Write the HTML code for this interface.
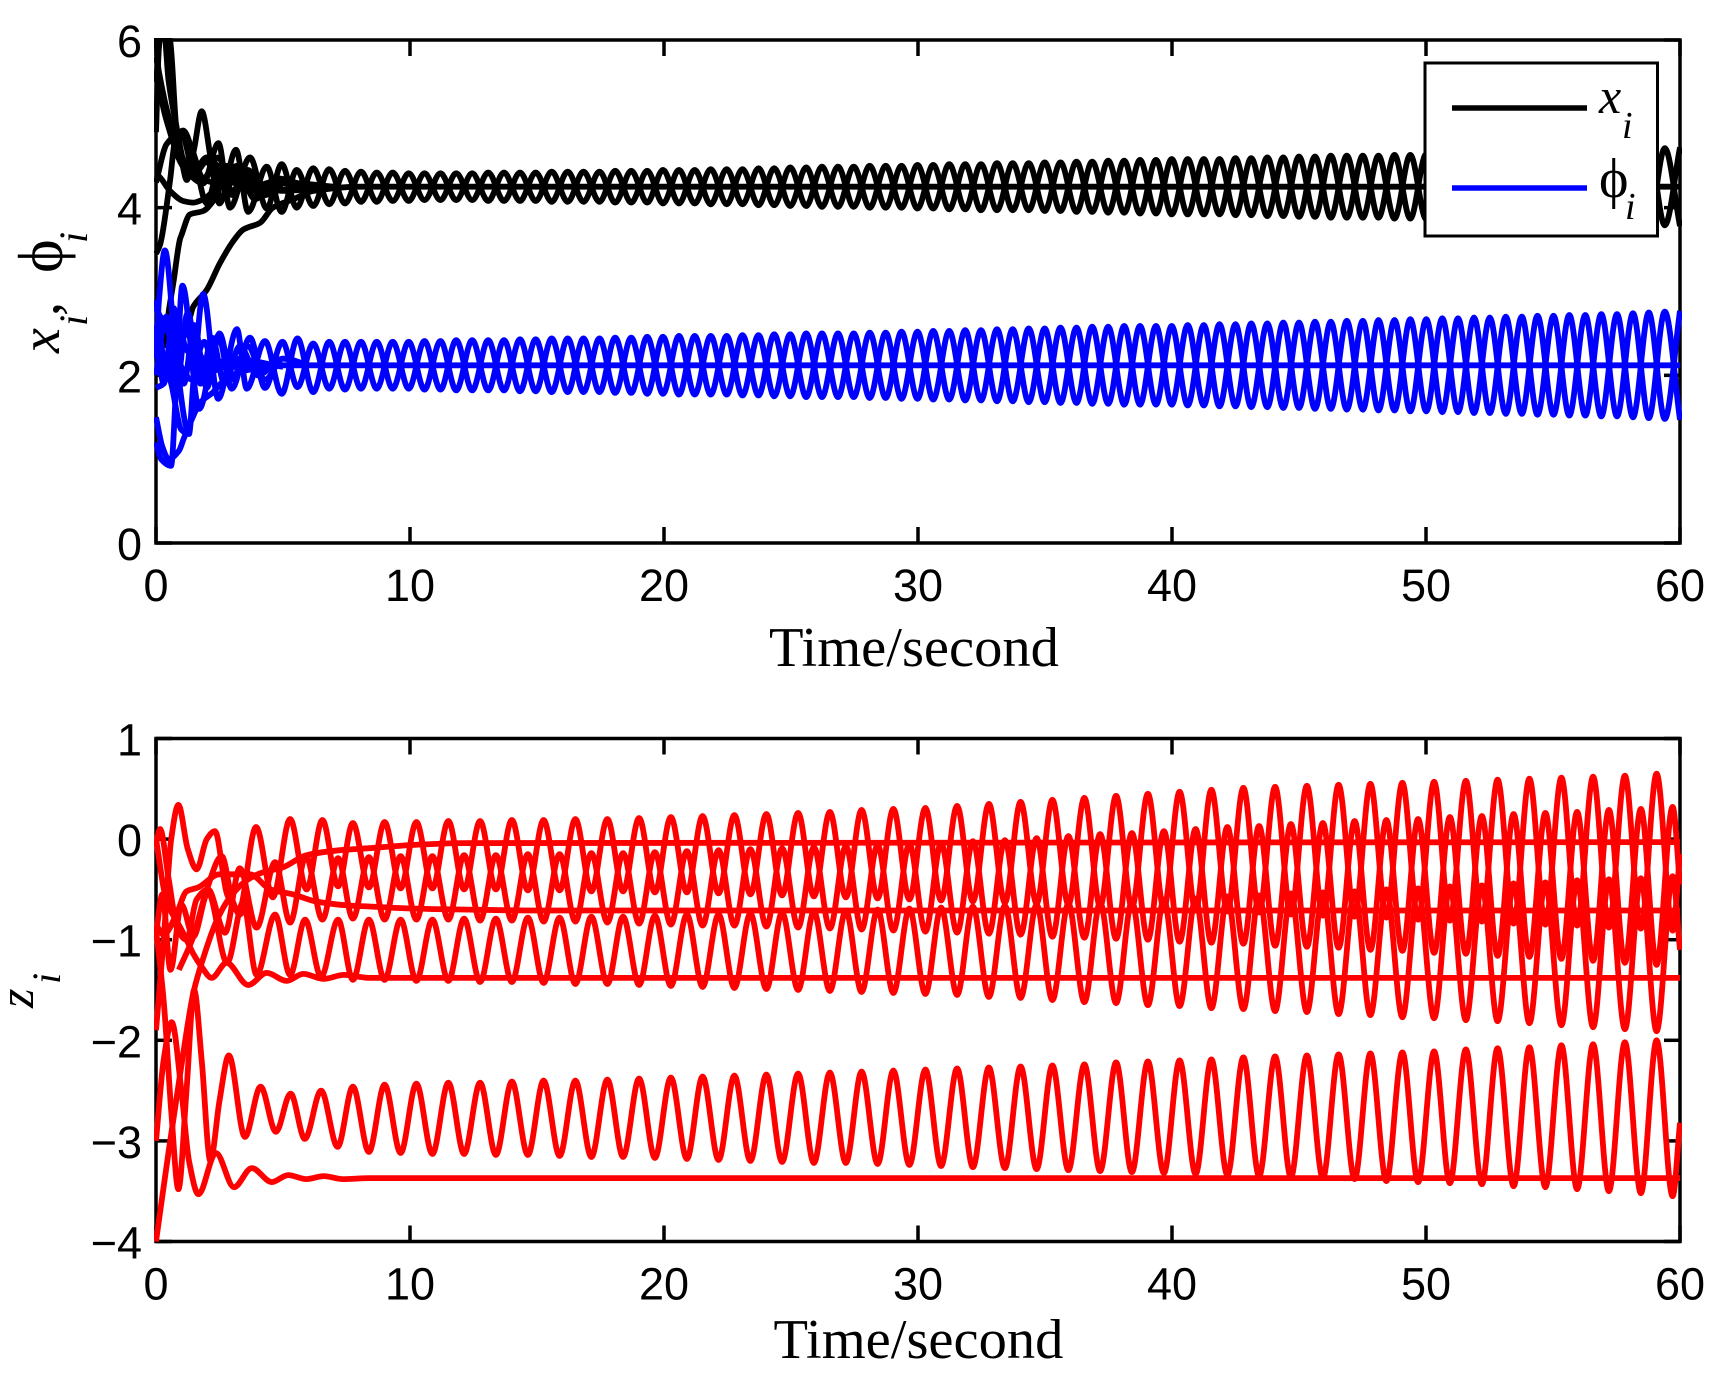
<!DOCTYPE html>
<html lang="en">
<head>
<meta charset="utf-8">
<title>State trajectories</title>
<style>
html,body{margin:0;padding:0;background:#fff;}
svg{display:block;}
text{fill:#000;}
.tick{font-family:"Liberation Sans",sans-serif;font-size:45px;}
.title{font-family:"Liberation Serif",serif;font-size:56.5px;}
.sym{font-family:"Liberation Serif","DejaVu Serif",serif;}
.it{font-family:"Liberation Serif",serif;font-style:italic;}
</style>
</head>
<body>
<svg id="figure" xmlns="http://www.w3.org/2000/svg" width="1734" height="1388" viewBox="0 0 1734 1388">
  <rect x="0" y="0" width="1734" height="1388" fill="#fff"/>
  <defs>
    <clipPath id="clip-top"><rect x="154" y="38" width="1528" height="507"/></clipPath>
    <clipPath id="clip-bottom"><rect x="154" y="736" width="1528" height="508"/></clipPath>
  </defs>
  <g id="top-axes"></g>
  <g id="top-series" clip-path="url(#clip-top)"></g>
  <g id="bottom-axes"></g>
  <g id="bottom-series" clip-path="url(#clip-bottom)"></g>

  <text class="title" x="769" y="666">Time/second</text>
  <text class="title" x="773.5" y="1358">Time/second</text>

  <g>
    <text class="it" font-size="56" transform="translate(59,353) rotate(-90)">x</text>
    <text class="it" font-size="40" transform="translate(87,326) rotate(-90)">i</text>
    <text class="sym" font-size="56" transform="translate(59,316) rotate(-90)">,</text>
    <text class="sym" font-size="64" transform="translate(62,273) rotate(-90)">ϕ</text>
    <text class="it" font-size="40" transform="translate(87,243) rotate(-90)">i</text>
  </g>
  <g>
    <text class="it" font-size="50" transform="translate(33,1008) rotate(-90)">z</text>
    <text class="it" font-size="40" transform="translate(60,984) rotate(-90)">i</text>
  </g>

  <g>
    <rect x="1425" y="63" width="232.5" height="173" fill="#fff" stroke="#000" stroke-width="3"/>
    <line x1="1452" x2="1587" y1="108" y2="108" stroke="#000" stroke-width="5.5"/>
    <text class="it" x="1599" y="113" font-size="50">x</text>
    <text class="it" x="1622" y="138" font-size="38">i</text>
    <line x1="1452" x2="1587" y1="188" y2="188" stroke="#0000ff" stroke-width="5.5"/>
    <text class="sym" x="1599" y="197" font-size="56">ϕ</text>
    <text class="it" x="1625" y="219" font-size="38">i</text>
  </g>
</svg>

<script>
/* ---------- axis ticks ---------- */
const xTickValues = [0, 10, 20, 30, 40, 50, 60];
const xTickLabels = ["0", "10", "20", "30", "40", "50", "60"];
const topYTickValues = [0, 2, 4, 6];
const topYTickLabels = ["0", "2", "4", "6"];
const bottomYTickValues = [-4, -3, -2, -1, 0, 1];
const bottomYTickLabels = ["\u22124", "\u22123", "\u22122", "\u22121", "0", "1"];

/* ---------- upper panel: extrema times after the start-up transient ---------- */
const topPhase1T = [6.19,7.44,8.69,9.95,11.20,12.45,13.70,14.95,16.21,17.46,18.71,19.96,21.21,22.47,23.72,24.97,26.22,27.47,28.73,29.98,31.23,32.48,33.73,34.99,36.24,37.49,38.74,39.99,41.25,42.50,43.75,45.00,46.25,47.51,48.76,50.01,51.26,52.51,53.77,55.02,56.27,57.52,58.77,60.00];
const topPhase2T = [6.82,8.07,9.32,10.57,11.82,13.08,14.33,15.58,16.83,18.08,19.34,20.59,21.84,23.09,24.34,25.60,26.85,28.10,29.35,30.60,31.86,33.11,34.36,35.61,36.86,38.12,39.37,40.62,41.87,43.12,44.38,45.63,46.88,48.13,49.38,50.64,51.89,53.14,54.39,55.64,56.90,58.15,59.40];

/* ---------- x_i (black) ---------- */
const xAHeadT = [0,0.25,0.55,0.8,1.05,1.21,1.5,1.8,2.15,2.5,3.15,3.63,4.36,4.95,5.54];
const xAHeadV = [5.5,6.2,6.0,4.95,4.5,4.33,4.7,5.15,4.6,4.05,4.69,3.95,4.49,3.95,4.45];
const xAPhase1 = [4.02,4.05,4.07,4.08,4.09,4.09,4.08,4.08,4.07,4.07,4.06,4.05,4.05,4.04,4.03,4.02,4.01,4.01,4.00,3.99,3.98,3.97,3.97,3.96,3.95,3.94,3.93,3.92,3.92,3.91,3.90,3.89,3.88,3.88,3.87,3.86,3.85,3.84,3.83,3.82,3.81,3.80,3.79,3.78];
const xAPhase2 = [4.46,4.43,4.42,4.41,4.41,4.42,4.42,4.43,4.43,4.44,4.44,4.45,4.46,4.46,4.47,4.48,4.49,4.50,4.50,4.51,4.52,4.53,4.53,4.54,4.55,4.56,4.57,4.58,4.58,4.59,4.60,4.61,4.62,4.62,4.63,4.64,4.65,4.66,4.67,4.68,4.69,4.70,4.71];

const xBHeadT = [0,0.16,0.55,0.95,1.3,1.86,2.46,2.91,3.7,4.36,4.95,5.54];
const xBHeadV = [6.1,5.4,4.9,4.55,4.4,4.29,4.77,4.0,4.6,3.99,4.52,4.0];
const xBPhase1 = [4.47,4.44,4.42,4.41,4.41,4.41,4.42,4.42,4.43,4.43,4.44,4.45,4.45,4.46,4.47,4.48,4.49,4.49,4.50,4.51,4.52,4.52,4.53,4.54,4.55,4.56,4.57,4.58,4.58,4.59,4.60,4.61,4.62,4.62,4.63,4.64,4.65,4.66,4.67,4.68,4.69,4.70,4.71,4.72];
const xBPhase2 = [4.04,4.07,4.08,4.09,4.09,4.08,4.08,4.07,4.07,4.06,4.06,4.05,4.04,4.04,4.03,4.02,4.01,4.00,4.00,3.99,3.98,3.97,3.97,3.96,3.95,3.94,3.93,3.92,3.92,3.91,3.90,3.89,3.88,3.88,3.87,3.86,3.85,3.84,3.83,3.82,3.81,3.80,3.79];

const xCT = [0,0.16,0.55,0.75,1.07,1.5,2.0,2.5,3.0,3.6,4.4,6.0];
const xCV = [3.45,3.56,4.32,4.8,4.92,4.6,4.05,4.5,4.2,4.45,4.2,4.25];
const xDT = [0,0.42,1.0,1.4,1.8,2.3,3.0,3.6,4.5,6.0];
const xDV = [4.3,4.76,4.9,4.5,4.35,4.3,4.45,4.2,4.3,4.25];
const xET = [0,0.16,0.55,1.07,1.47,1.86,2.25,2.8,3.3,4.0,5.0,7.0];
const xEV = [4.4,4.36,4.2,4.08,4.06,4.1,4.2,4.5,4.3,4.2,4.3,4.25];
const xGT = [0,0.3,0.55,0.68,0.94,1.01,1.34,1.86,2.25,2.7,3.2,3.8,5.0,7.0];
const xGV = [2.3,2.4,2.86,3.1,3.62,3.68,3.92,3.96,4.08,4.35,4.5,4.3,4.2,4.25];
const xHT = [0,0.15,0.3,0.5,0.85,1.1,1.5,2.0,3.0,5.0];
const xHV = [4.9,6.1,6.15,5.5,4.9,4.55,4.45,4.6,4.3,4.25];
const xJT = [0.9,1.4,1.86,2.46,3.0,3.6,4.3,5.0,6.0];
const xJV = [4.9,4.7,4.35,4.6,4.15,4.4,4.15,4.3,4.25];
const xKT = [0,0.4,0.9,1.5,2.0,2.6,3.2,3.9,4.7,6.0];
const xKV = [5.8,5.2,4.7,4.4,4.55,4.1,4.45,4.1,4.35,4.25];
const xFlatT = [0,0.5,1.0,1.27,1.47,2.0,2.52,3.04,3.44,4.1,4.6,5.4,6.2,8.0,60];
const xFlatV = [2.45,2.35,2.5,2.63,2.82,3.02,3.34,3.6,3.74,3.82,4.0,4.1,4.2,4.25,4.25];

/* ---------- phi_i (blue) ---------- */
const phiPHeadT = [0,0.12,0.35,0.8,1.27,1.86,2.45,3.19,3.57,4.29,4.95,5.57];
const phiPHeadV = [2.2,2.9,3.49,2.2,1.34,2.97,1.72,2.55,1.84,2.41,1.78,2.44];
const phiPPhase1 = [1.80,1.83,1.84,1.84,1.83,1.82,1.82,1.81,1.80,1.80,1.79,1.78,1.77,1.77,1.76,1.75,1.74,1.74,1.73,1.72,1.71,1.70,1.69,1.68,1.67,1.66,1.65,1.65,1.64,1.63,1.62,1.61,1.60,1.59,1.58,1.57,1.56,1.55,1.54,1.53,1.52,1.51,1.49,1.47];
const phiPPhase2 = [2.40,2.40,2.40,2.41,2.42,2.42,2.43,2.44,2.44,2.45,2.46,2.47,2.47,2.48,2.49,2.50,2.50,2.51,2.52,2.53,2.54,2.55,2.56,2.57,2.58,2.59,2.59,2.60,2.61,2.62,2.63,2.64,2.65,2.66,2.67,2.68,2.69,2.70,2.71,2.72,2.73,2.74,2.76];

const phiQHeadT = [0,0.2,0.59,0.8,1.04,1.7,2.45,2.98,3.7,4.29,4.98,5.57];
const phiQHeadV = [1.2,1.0,0.92,1.9,3.07,1.6,2.47,1.84,2.45,1.85,2.40,1.86];
const phiQPhase1 = [2.38,2.40,2.40,2.40,2.41,2.42,2.42,2.43,2.44,2.44,2.45,2.46,2.47,2.47,2.48,2.49,2.50,2.50,2.51,2.52,2.53,2.54,2.55,2.56,2.57,2.58,2.59,2.59,2.60,2.61,2.62,2.63,2.64,2.65,2.66,2.67,2.68,2.69,2.70,2.71,2.72,2.73,2.75,2.77];
const phiQPhase2 = [1.84,1.84,1.84,1.83,1.82,1.82,1.81,1.80,1.80,1.79,1.78,1.77,1.77,1.76,1.75,1.74,1.74,1.73,1.72,1.71,1.70,1.69,1.68,1.67,1.66,1.65,1.65,1.64,1.63,1.62,1.61,1.60,1.59,1.58,1.57,1.56,1.55,1.54,1.53,1.52,1.51,1.50,1.48];

const phiRT = [0,0.25,0.5,0.9,1.1,1.4,1.73,2.25,2.65,3.4,5.0];
const phiRV = [1.5,1.15,1.0,1.1,1.25,1.47,1.67,1.8,1.93,2.05,2.12];
const phiST = [0,0.3,0.6,0.9,1.2,1.8,3.0,5.0];
const phiSV = [1.85,1.9,2.3,2.6,2.3,2.2,2.15,2.12];
const phiVT = [0,0.4,0.8,1.05,1.6,2.2,3.0,5.0];
const phiVV = [2.45,2.0,2.15,2.55,2.3,2.1,2.2,2.1];
const phiWT = [0,0.3,0.6,1.0,1.3,1.5,1.9,2.3,4.0];
const phiWV = [2.9,2.2,1.9,1.35,1.3,2.0,2.4,2.1,2.1];
const phiXT = [0,0.3,0.7,1.1,1.5,2.0,2.5,3.0,3.6,4.3,5.0,6.0];
const phiXV = [2.6,1.9,2.8,1.9,2.6,1.85,2.5,1.95,2.35,1.95,2.2,2.12];
const phiYT = [0,0.4,0.8,1.25,1.75,2.2,2.7,3.3,4.0,5.0,6.0];
const phiYV = [2.0,2.7,1.85,2.75,1.9,2.45,1.9,2.35,2.0,2.2,2.12];
const phiFlatT = [0,0.5,1.0,1.4,2.8,5.0,60];
const phiFlatV = [2.8,2.5,2.1,1.95,2.1,2.12,2.12];

/* ---------- lower panel: extrema times after the start-up transient ---------- */
const zPhase1T = [7.75,9.00,10.25,11.51,12.76,14.01,15.26,16.51,17.77,19.02,20.27,21.52,22.77,24.03,25.28,26.53,27.78,29.03,30.29,31.54,32.79,34.04,35.29,36.55,37.80,39.05,40.30,41.55,42.81,44.06,45.31,46.56,47.81,49.07,50.32,51.57,52.82,54.07,55.33,56.58,57.83,59.08];
const zPhase2T = [8.38,9.63,10.88,12.13,13.38,14.64,15.89,17.14,18.39,19.64,20.90,22.15,23.40,24.65,25.90,27.16,28.41,29.66,30.91,32.16,33.42,34.67,35.92,37.17,38.42,39.68,40.93,42.18,43.43,44.68,45.94,47.19,48.44,49.69,50.94,52.20,53.45,54.70,55.95,57.20,58.46,59.71];
const zEndT = [60];

/* ---------- z_i (red) ---------- */
const zAHeadT = [0,0.3,0.6,0.88,1.25,1.6,2.0,2.32,2.8,3.25,3.94,4.6,5.28,5.93,6.55,7.17];
const zAHeadV = [-1.9,-1.0,0,0.34,-0.1,-0.3,0,0.08,-0.55,-0.72,0.12,-0.58,0.2,-0.5,0.19,-0.47];
const zAPhase1 = [0.16,0.17,0.17,0.18,0.18,0.19,0.19,0.20,0.20,0.21,0.22,0.23,0.24,0.25,0.26,0.27,0.29,0.30,0.31,0.33,0.35,0.37,0.39,0.41,0.43,0.45,0.47,0.49,0.51,0.52,0.53,0.54,0.55,0.56,0.57,0.58,0.59,0.60,0.61,0.62,0.63,0.65];
const zAPhase2 = [-0.48,-0.49,-0.49,-0.50,-0.50,-0.51,-0.51,-0.52,-0.52,-0.53,-0.53,-0.54,-0.55,-0.56,-0.57,-0.58,-0.59,-0.60,-0.61,-0.62,-0.63,-0.64,-0.65,-0.67,-0.68,-0.69,-0.71,-0.72,-0.73,-0.75,-0.76,-0.77,-0.78,-0.80,-0.81,-0.82,-0.84,-0.85,-0.86,-0.88,-0.89,-0.91];
const zAEnd = [-0.15];

const zBHeadT = [0,0.25,0.57,1.0,1.47,2.05,2.8,3.43,3.96,4.69,5.28,5.87,6.5,7.17];
const zBHeadV = [-0.95,-0.55,-1.3,-0.65,-0.97,-0.53,-1.23,-0.63,-1.35,-0.75,-1.35,-0.8,-1.37,-0.8];
const zBPhase1 = [-1.40,-1.40,-1.41,-1.41,-1.42,-1.42,-1.43,-1.44,-1.44,-1.45,-1.46,-1.47,-1.48,-1.49,-1.50,-1.51,-1.52,-1.53,-1.54,-1.55,-1.57,-1.58,-1.60,-1.62,-1.63,-1.65,-1.66,-1.68,-1.69,-1.71,-1.72,-1.74,-1.75,-1.77,-1.78,-1.80,-1.81,-1.83,-1.85,-1.87,-1.89,-1.91];
const zBPhase2 = [-0.80,-0.80,-0.80,-0.79,-0.79,-0.78,-0.78,-0.77,-0.77,-0.76,-0.75,-0.75,-0.74,-0.73,-0.72,-0.71,-0.70,-0.69,-0.68,-0.67,-0.66,-0.65,-0.64,-0.63,-0.62,-0.60,-0.59,-0.57,-0.56,-0.54,-0.53,-0.52,-0.50,-0.49,-0.47,-0.46,-0.44,-0.43,-0.41,-0.40,-0.39,-0.37];
const zBEnd = [-1.1];

const zCHeadT = [0,0.16,0.5,0.85,1.2,1.6,2.05,2.72,3.3,3.96,4.69,5.28,5.9,6.55,7.17];
const zCHeadV = [-0.05,0.1,-0.4,-0.9,-1.0,-0.6,-0.5,-0.93,-0.29,-0.88,-0.23,-0.83,-0.17,-0.8,-0.19];
const zCPhase1 = [-0.79,-0.80,-0.80,-0.80,-0.81,-0.81,-0.82,-0.82,-0.83,-0.84,-0.85,-0.86,-0.86,-0.87,-0.88,-0.89,-0.90,-0.91,-0.92,-0.93,-0.94,-0.95,-0.97,-0.98,-0.99,-1.00,-1.02,-1.03,-1.04,-1.06,-1.07,-1.08,-1.10,-1.11,-1.13,-1.14,-1.16,-1.17,-1.19,-1.21,-1.23,-1.25];
const zCPhase2 = [-0.18,-0.17,-0.17,-0.16,-0.16,-0.15,-0.15,-0.14,-0.14,-0.13,-0.12,-0.11,-0.10,-0.09,-0.08,-0.07,-0.06,-0.05,-0.04,-0.02,-0.01,0.01,0.03,0.05,0.06,0.08,0.10,0.12,0.13,0.15,0.16,0.18,0.19,0.20,0.22,0.23,0.25,0.26,0.27,0.29,0.30,0.32];
const zCEnd = [-0.45];

const zDHeadT = [0,0.3,0.6,0.88,1.2,1.5,1.8,2.14,2.5,2.87,3.5,4.12,4.72,5.3,5.86,6.5,7.15];
const zDHeadV = [-0.9,-1.6,-2.7,-3.48,-2.5,-1.5,-2.2,-3.2,-2.6,-2.15,-2.96,-2.46,-2.91,-2.53,-2.98,-2.5,-3.06];
const zDPhase1 = [-2.46,-2.44,-2.43,-2.42,-2.42,-2.41,-2.40,-2.40,-2.39,-2.38,-2.37,-2.36,-2.35,-2.34,-2.33,-2.32,-2.31,-2.30,-2.29,-2.28,-2.27,-2.26,-2.25,-2.24,-2.22,-2.21,-2.20,-2.19,-2.17,-2.16,-2.15,-2.14,-2.13,-2.12,-2.11,-2.09,-2.08,-2.07,-2.05,-2.04,-2.02,-2.00];
const zDPhase2 = [-3.11,-3.12,-3.13,-3.13,-3.14,-3.14,-3.15,-3.16,-3.16,-3.17,-3.18,-3.19,-3.20,-3.21,-3.22,-3.22,-3.23,-3.24,-3.25,-3.26,-3.27,-3.28,-3.29,-3.30,-3.31,-3.32,-3.33,-3.34,-3.35,-3.36,-3.37,-3.38,-3.40,-3.41,-3.42,-3.43,-3.45,-3.46,-3.48,-3.50,-3.52,-3.55];
const zDEnd = [-2.82];

const zExtraT = [0.9,1.47,2.0,2.59,3.0,3.3,3.6];
const zExtraV = [-1.3,-0.97,-0.5,-0.17,-0.6,-0.75,-0.6];

const zFlat1T = [0,0.5,1.0,1.47,1.9,2.39,2.91,3.57,4.1,5.0,5.93,7.24,8.4,10,12,60];
const zFlat1V = [-4,-3.1,-2.25,-1.53,-1.15,-0.81,-0.58,-0.41,-0.34,-0.28,-0.16,-0.11,-0.09,-0.06,-0.04,-0.03];
const zFlat2T = [0,0.3,0.8,1.2,1.66,2.5,3.7,4.5,5.4,6.3,7.6,8.4,10,12,15,60];
const zFlat2V = [-0.85,-0.95,-0.75,-0.52,-0.48,-0.35,-0.35,-0.5,-0.55,-0.62,-0.66,-0.67,-0.69,-0.7,-0.71,-0.71];
const zFlat3T = [0,0.4,1.0,1.2,1.47,1.8,2.19,2.78,3.63,4.36,5.14,5.8,6.6,7.4,8.4,60];
const zFlat3V = [0,-0.6,-0.9,-1.0,-1.14,-1.27,-1.38,-1.23,-1.45,-1.33,-1.41,-1.34,-1.39,-1.35,-1.38,-1.38];
const zFlat4T = [0,0.3,0.62,1.0,1.3,1.67,2.36,3.07,3.77,4.56,5.2,5.93,6.6,7.35,8.4,60];
const zFlat4V = [-3.0,-2.2,-1.82,-2.5,-3.2,-3.53,-3.12,-3.46,-3.27,-3.41,-3.34,-3.38,-3.35,-3.38,-3.37,-3.37];

/* ---------- geometry ---------- */
const SVG_NS = "http://www.w3.org/2000/svg";
const plotLeft = 156, plotRight = 1680;
const topPanel = { top: 40, bottom: 543, min: 0, max: 6 };
const bottomPanel = { top: 738.5, bottom: 1241.5, min: -4, max: 1 };
const TICK_LEN = 16, AXIS_W = 3.5, LINE_W = 5.8;

function xScale(t) { return plotLeft + (t / 60) * (plotRight - plotLeft); }
function yScale(panel, v) {
  return panel.bottom - ((v - panel.min) / (panel.max - panel.min)) * (panel.bottom - panel.top);
}

function interleave(a, b) {
  const out = [];
  const n = Math.max(a.length, b.length);
  for (let i = 0; i < n; i++) {
    if (i < a.length) out.push(a[i]);
    if (i < b.length) out.push(b[i]);
  }
  return out;
}

/* monotone cubic: flat tangents at extrema, so a run of extrema draws a smooth wave */
function curvePath(panel, ts, vs) {
  const n = Math.min(ts.length, vs.length);
  const px = [], py = [];
  for (let i = 0; i < n; i++) {
    px.push(xScale(ts[i]));
    py.push(yScale(panel, vs[i]));
  }
  const slope = [];
  for (let i = 0; i < n - 1; i++) slope.push((py[i + 1] - py[i]) / (px[i + 1] - px[i]));
  const tan = [];
  for (let i = 0; i < n; i++) {
    if (i === 0) tan.push(slope[0]);
    else if (i === n - 1) tan.push(slope[n - 2]);
    else if (slope[i - 1] * slope[i] <= 0) tan.push(0);
    else tan.push(2 * slope[i - 1] * slope[i] / (slope[i - 1] + slope[i]));
  }
  let d = "M" + px[0].toFixed(1) + " " + py[0].toFixed(1);
  for (let i = 0; i < n - 1; i++) {
    const h = px[i + 1] - px[i];
    d += "C" + (px[i] + h / 3).toFixed(1) + " " + (py[i] + tan[i] * h / 3).toFixed(1) +
         " " + (px[i + 1] - h / 3).toFixed(1) + " " + (py[i + 1] - tan[i + 1] * h / 3).toFixed(1) +
         " " + px[i + 1].toFixed(1) + " " + py[i + 1].toFixed(1);
  }
  return d;
}

function drawSeries(groupId, panel, name, color, ts, vs) {
  const el = document.createElementNS(SVG_NS, "path");
  
  
  el.setAttribute("d", curvePath(panel, ts, vs));
  el.setAttribute("fill", "none");
  el.setAttribute("stroke", color);
  el.setAttribute("stroke-width", LINE_W);
  el.setAttribute("stroke-linejoin", "round");
  document.getElementById(groupId).appendChild(el);
}

function drawAxes(groupId, panel, yValues, yLabels) {
  const g = document.getElementById(groupId);
  const frame = document.createElementNS(SVG_NS, "rect");
  
  
  frame.setAttribute("x", plotLeft);
  frame.setAttribute("y", panel.top);
  frame.setAttribute("width", plotRight - plotLeft);
  frame.setAttribute("height", panel.bottom - panel.top);
  frame.setAttribute("fill", "#fff");
  frame.setAttribute("stroke", "#000");
  frame.setAttribute("stroke-width", AXIS_W);
  g.appendChild(frame);

  xTickValues.forEach(function (v, i) {
    const x = xScale(v);
    [[panel.top, panel.top + TICK_LEN], [panel.bottom, panel.bottom - TICK_LEN]].forEach(function (pair) {
      const tick = document.createElementNS(SVG_NS, "line");
      
      
      tick.setAttribute("x1", x);
      tick.setAttribute("x2", x);
      tick.setAttribute("y1", pair[0]);
      tick.setAttribute("y2", pair[1]);
      tick.setAttribute("stroke", "#000");
      tick.setAttribute("stroke-width", AXIS_W);
      g.appendChild(tick);
    });
    const label = document.createElementNS(SVG_NS, "text");
    
    
    label.setAttribute("class", "tick");
    label.setAttribute("x", x);
    label.setAttribute("y", panel.bottom + 58);
    label.setAttribute("text-anchor", "middle");
    label.textContent = xTickLabels[i];
    g.appendChild(label);
  });

  yValues.forEach(function (v, i) {
    const y = yScale(panel, v);
    [[plotLeft, plotLeft + TICK_LEN], [plotRight, plotRight - TICK_LEN]].forEach(function (pair) {
      const tick = document.createElementNS(SVG_NS, "line");
      
      
      tick.setAttribute("x1", pair[0]);
      tick.setAttribute("x2", pair[1]);
      tick.setAttribute("y1", y);
      tick.setAttribute("y2", y);
      tick.setAttribute("stroke", "#000");
      tick.setAttribute("stroke-width", AXIS_W);
      g.appendChild(tick);
    });
    const label = document.createElementNS(SVG_NS, "text");
    
    
    label.setAttribute("class", "tick");
    label.setAttribute("x", 142);
    label.setAttribute("y", y + 17);
    label.setAttribute("text-anchor", "end");
    label.textContent = yLabels[i];
    g.appendChild(label);
  });
}

drawAxes("top-axes", topPanel, topYTickValues, topYTickLabels);
drawAxes("bottom-axes", bottomPanel, bottomYTickValues, bottomYTickLabels);

const topT = interleave(topPhase1T, topPhase2T);
const zT = interleave(zPhase1T, zPhase2T).concat(zEndT);

drawSeries("top-series", topPanel, "x-series-a", "#000", xAHeadT.concat(topT), xAHeadV.concat(interleave(xAPhase1, xAPhase2)));
drawSeries("top-series", topPanel, "x-series-b", "#000", xBHeadT.concat(topT), xBHeadV.concat(interleave(xBPhase1, xBPhase2)));
drawSeries("top-series", topPanel, "x-series-c", "#000", xCT, xCV);
drawSeries("top-series", topPanel, "x-series-d", "#000", xDT, xDV);
drawSeries("top-series", topPanel, "x-series-e", "#000", xET, xEV);
drawSeries("top-series", topPanel, "x-series-g", "#000", xGT, xGV);
drawSeries("top-series", topPanel, "x-series-h", "#000", xHT, xHV);
drawSeries("top-series", topPanel, "x-series-j", "#000", xJT, xJV);
drawSeries("top-series", topPanel, "x-series-k", "#000", xKT, xKV);
drawSeries("top-series", topPanel, "x-series-flat", "#000", xFlatT, xFlatV);

drawSeries("top-series", topPanel, "phi-series-p", "#0000ff", phiPHeadT.concat(topT), phiPHeadV.concat(interleave(phiPPhase1, phiPPhase2)));
drawSeries("top-series", topPanel, "phi-series-q", "#0000ff", phiQHeadT.concat(topT), phiQHeadV.concat(interleave(phiQPhase1, phiQPhase2)));
drawSeries("top-series", topPanel, "phi-series-r", "#0000ff", phiRT, phiRV);
drawSeries("top-series", topPanel, "phi-series-s", "#0000ff", phiST, phiSV);
drawSeries("top-series", topPanel, "phi-series-v", "#0000ff", phiVT, phiVV);
drawSeries("top-series", topPanel, "phi-series-w", "#0000ff", phiWT, phiWV);
drawSeries("top-series", topPanel, "phi-series-x", "#0000ff", phiXT, phiXV);
drawSeries("top-series", topPanel, "phi-series-y", "#0000ff", phiYT, phiYV);
drawSeries("top-series", topPanel, "phi-series-flat", "#0000ff", phiFlatT, phiFlatV);

drawSeries("bottom-series", bottomPanel, "z-series-a", "#ff0000", zAHeadT.concat(zT), zAHeadV.concat(interleave(zAPhase1, zAPhase2), zAEnd));
drawSeries("bottom-series", bottomPanel, "z-series-b", "#ff0000", zBHeadT.concat(zT), zBHeadV.concat(interleave(zBPhase1, zBPhase2), zBEnd));
drawSeries("bottom-series", bottomPanel, "z-series-c", "#ff0000", zCHeadT.concat(zT), zCHeadV.concat(interleave(zCPhase1, zCPhase2), zCEnd));
drawSeries("bottom-series", bottomPanel, "z-series-d", "#ff0000", zDHeadT.concat(zT), zDHeadV.concat(interleave(zDPhase1, zDPhase2), zDEnd));
drawSeries("bottom-series", bottomPanel, "z-series-extra", "#ff0000", zExtraT, zExtraV);
drawSeries("bottom-series", bottomPanel, "z-series-flat-1", "#ff0000", zFlat1T, zFlat1V);
drawSeries("bottom-series", bottomPanel, "z-series-flat-2", "#ff0000", zFlat2T, zFlat2V);
drawSeries("bottom-series", bottomPanel, "z-series-flat-3", "#ff0000", zFlat3T, zFlat3V);
drawSeries("bottom-series", bottomPanel, "z-series-flat-4", "#ff0000", zFlat4T, zFlat4V);
</script>
</body>
</html>
